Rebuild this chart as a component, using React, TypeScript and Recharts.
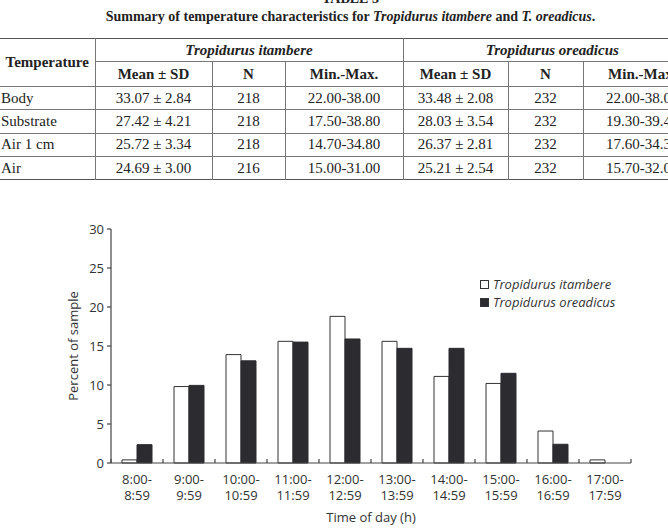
import React from "react";
import { BarChart, Bar, XAxis, YAxis, Label } from "recharts";

// time slots on the x axis
const slots = [
  "8:00-8:59", "9:00-9:59", "10:00-10:59", "11:00-11:59", "12:00-12:59",
  "13:00-13:59", "14:00-14:59", "15:00-15:59", "16:00-16:59", "17:00-17:59",
];
const itambere = [0.4, 9.8, 13.9, 15.6, 18.8, 15.6, 11.1, 10.2, 4.1, 0.4];
const oreadicus = [2.35, 9.95, 13.1, 15.5, 15.9, 14.7, 14.7, 11.5, 2.4, 0];
const yTicks = [0, 5, 10, 15, 20, 25, 30];
const seriesNames = ["Tropidurus itambere", "Tropidurus oreadicus"];

// table 3
const tempRows = ["Body", "Substrate", "Air 1 cm", "Air"];
const itaMean = ["33.07 ± 2.84", "27.42 ± 4.21", "25.72 ± 3.34", "24.69 ± 3.00"];
const itaN = [218, 218, 218, 216];
const itaRange = ["22.00-38.00", "17.50-38.80", "14.70-34.80", "15.00-31.00"];
const oreMean = ["33.48 ± 2.08", "28.03 ± 3.54", "26.37 ± 2.81", "25.21 ± 2.54"];
const oreN = [232, 232, 232, 232];
const oreRange = ["22.00-38.00", "19.30-39.40", "17.60-34.30", "15.70-32.00"];

const data = slots.map((s, i) => ({ slot: s, itambere: itambere[i], oreadicus: oreadicus[i] }));

const AXIS = "#444";
const DARK = "#2b2b30";
const FONT = "'Open Sans', sans-serif";
const BAND = 52;

const serif = "'Liberation Serif', 'Times New Roman', serif";
const line = "1px solid #777";
const thick = "1.5px solid #555";

function XTick(props: any) {
  const { x, y, payload, index } = props;
  const [a, b] = String(payload.value).split("-");
  return (
    <g>
      <line x1={x - BAND / 2} x2={x - BAND / 2} y1={y} y2={y - 4} stroke={AXIS} strokeWidth={1.2} />
      {index === slots.length - 1 && (
        <line x1={x + BAND / 2} x2={x + BAND / 2} y1={y} y2={y - 4} stroke={AXIS} strokeWidth={1.2} />
      )}
      <text x={x} y={y + 20.5} textAnchor="middle" fontSize={13} fill="#333" fontFamily={FONT}>
        <tspan x={x}>{a + "-"}</tspan>
        <tspan x={x} dy={16}>{b}</tspan>
      </text>
    </g>
  );
}

function LegendBox() {
  const row = (label: string, fill: string) => (
    <div key={label} style={{ display: "flex", alignItems: "center", height: 18 }}>
      <span style={{ width: 7, height: 7, border: "1px solid #333", background: fill, marginRight: 4, display: "inline-block" }} />
      <span style={{ fontStyle: "italic", fontSize: 13, color: "#333", fontFamily: FONT }}>{label}</span>
    </div>
  );
  return (
    <div style={{ position: "absolute", top: 275, left: 480, width: 180 }}>
      {row(seriesNames[0], "#fff")}
      {row(seriesNames[1], DARK)}
    </div>
  );
}

function Table3() {
  const th: React.CSSProperties = { fontWeight: "bold", textAlign: "center", padding: 0, borderLeft: line, borderBottom: line };
  const td: React.CSSProperties = { textAlign: "center", padding: 0, borderLeft: line, borderBottom: line };
  return (
    <table style={{
      position: "absolute", top: 38, left: 0, width: 701, tableLayout: "fixed",
      borderCollapse: "collapse", fontFamily: serif, fontSize: 15, color: "#222",
      borderTop: thick, borderBottom: thick,
    }}>
      <colgroup>
        <col style={{ width: 95 }} />
        <col style={{ width: 117 }} />
        <col style={{ width: 73 }} />
        <col style={{ width: 118 }} />
        <col style={{ width: 105 }} />
        <col style={{ width: 75 }} />
        <col style={{ width: 118 }} />
      </colgroup>
      <tbody>
        <tr style={{ height: 23 }}>
          <td rowSpan={2} style={{ ...th, borderLeft: "none" }}>Temperature</td>
          <td colSpan={3} style={{ ...th, fontStyle: "italic" }}>{seriesNames[0]}</td>
          <td colSpan={3} style={{ ...th, fontStyle: "italic" }}>{seriesNames[1]}</td>
        </tr>
        <tr style={{ height: 25 }}>
          <td style={th}>Mean ± SD</td>
          <td style={th}>N</td>
          <td style={th}>Min.-Max.</td>
          <td style={th}>Mean ± SD</td>
          <td style={th}>N</td>
          <td style={th}>Min.-Max.</td>
        </tr>
        {tempRows.map((r, i) => {
          const bb = i === tempRows.length - 1 ? "none" : line;
          return (
            <tr key={r} style={{ height: 23.3 }}>
              <td style={{ ...td, textAlign: "left", paddingLeft: 1, borderLeft: "none", borderBottom: bb }}>{r}</td>
              <td style={{ ...td, borderBottom: bb }}>{itaMean[i]}</td>
              <td style={{ ...td, borderBottom: bb }}>{itaN[i]}</td>
              <td style={{ ...td, borderBottom: bb }}>{itaRange[i]}</td>
              <td style={{ ...td, borderBottom: bb }}>{oreMean[i]}</td>
              <td style={{ ...td, borderBottom: bb }}>{oreN[i]}</td>
              <td style={{ ...td, borderBottom: bb }}>{oreRange[i]}</td>
            </tr>
          );
        })}
      </tbody>
    </table>
  );
}

export default function App() {
  return (
    <div style={{ position: "absolute", left: 0, top: 0, width: 668, height: 529, overflow: "hidden", background: "#fff" }}>
      <div style={{ position: "absolute", top: -8, left: 0, width: 701, textAlign: "center", fontFamily: serif, fontWeight: "bold", fontSize: 14, lineHeight: "14px", color: "#222" }}>
        TABLE 3
      </div>
      <div style={{ position: "absolute", top: 9.5, left: 0, width: 701, textAlign: "center", fontFamily: serif, fontWeight: "bold", fontSize: 14, lineHeight: "14px", color: "#222" }}>
        Summary of temperature characteristics for <i>Tropidurus itambere</i> and <i>T. oreadicus</i>.
      </div>
      <Table3 />

      <div style={{ position: "absolute", top: 220, left: 0 }}>
        <BarChart
          width={668}
          height={309}
          data={data}
          margin={{ top: 9, right: 37, bottom: 0, left: 0 }}
          barGap={0}
          barCategoryGap={11}
        >
          <XAxis
            dataKey="slot"
            height={66}
            interval={0}
            tickLine={false}
            tickSize={0}
            tickMargin={0}
            axisLine={{ stroke: AXIS, strokeWidth: 1.2 }}
            tick={<XTick />}
          >
            <Label
              content={(p: any) => (
                <text x={p.viewBox.x + p.viewBox.width / 2} y={p.viewBox.y + 59} textAnchor="middle" fontSize={13} fill="#333" fontFamily={FONT}>
                  Time of day (h)
                </text>
              )}
            />
          </XAxis>
          <YAxis
            width={111}
            domain={[0, 30]}
            ticks={yTicks}
            interval={0}
            tickSize={4}
            tickMargin={3}
            axisLine={{ stroke: AXIS, strokeWidth: 1.2 }}
            tickLine={{ stroke: AXIS, strokeWidth: 1.2 }}
            tick={{ fontSize: 13, fill: "#333", fontFamily: FONT }}
          >
            <Label
              content={(p: any) => {
                const cy = p.viewBox.y + p.viewBox.height / 2;
                return (
                  <text x={72.5} y={cy} transform={`rotate(-90 72.5 ${cy})`} textAnchor="middle" dominantBaseline="central" fontSize={13} fill="#333" fontFamily={FONT}>
                    Percent of sample
                  </text>
                );
              }}
            />
          </YAxis>
          <Bar dataKey="itambere" name={seriesNames[0]} fill="#fff" stroke="#333" strokeWidth={1} barSize={15} isAnimationActive={false} />
          <Bar dataKey="oreadicus" name={seriesNames[1]} fill={DARK} stroke={DARK} strokeWidth={1} barSize={15} isAnimationActive={false} />
        </BarChart>
      </div>
      <LegendBox />
    </div>
  );
}
